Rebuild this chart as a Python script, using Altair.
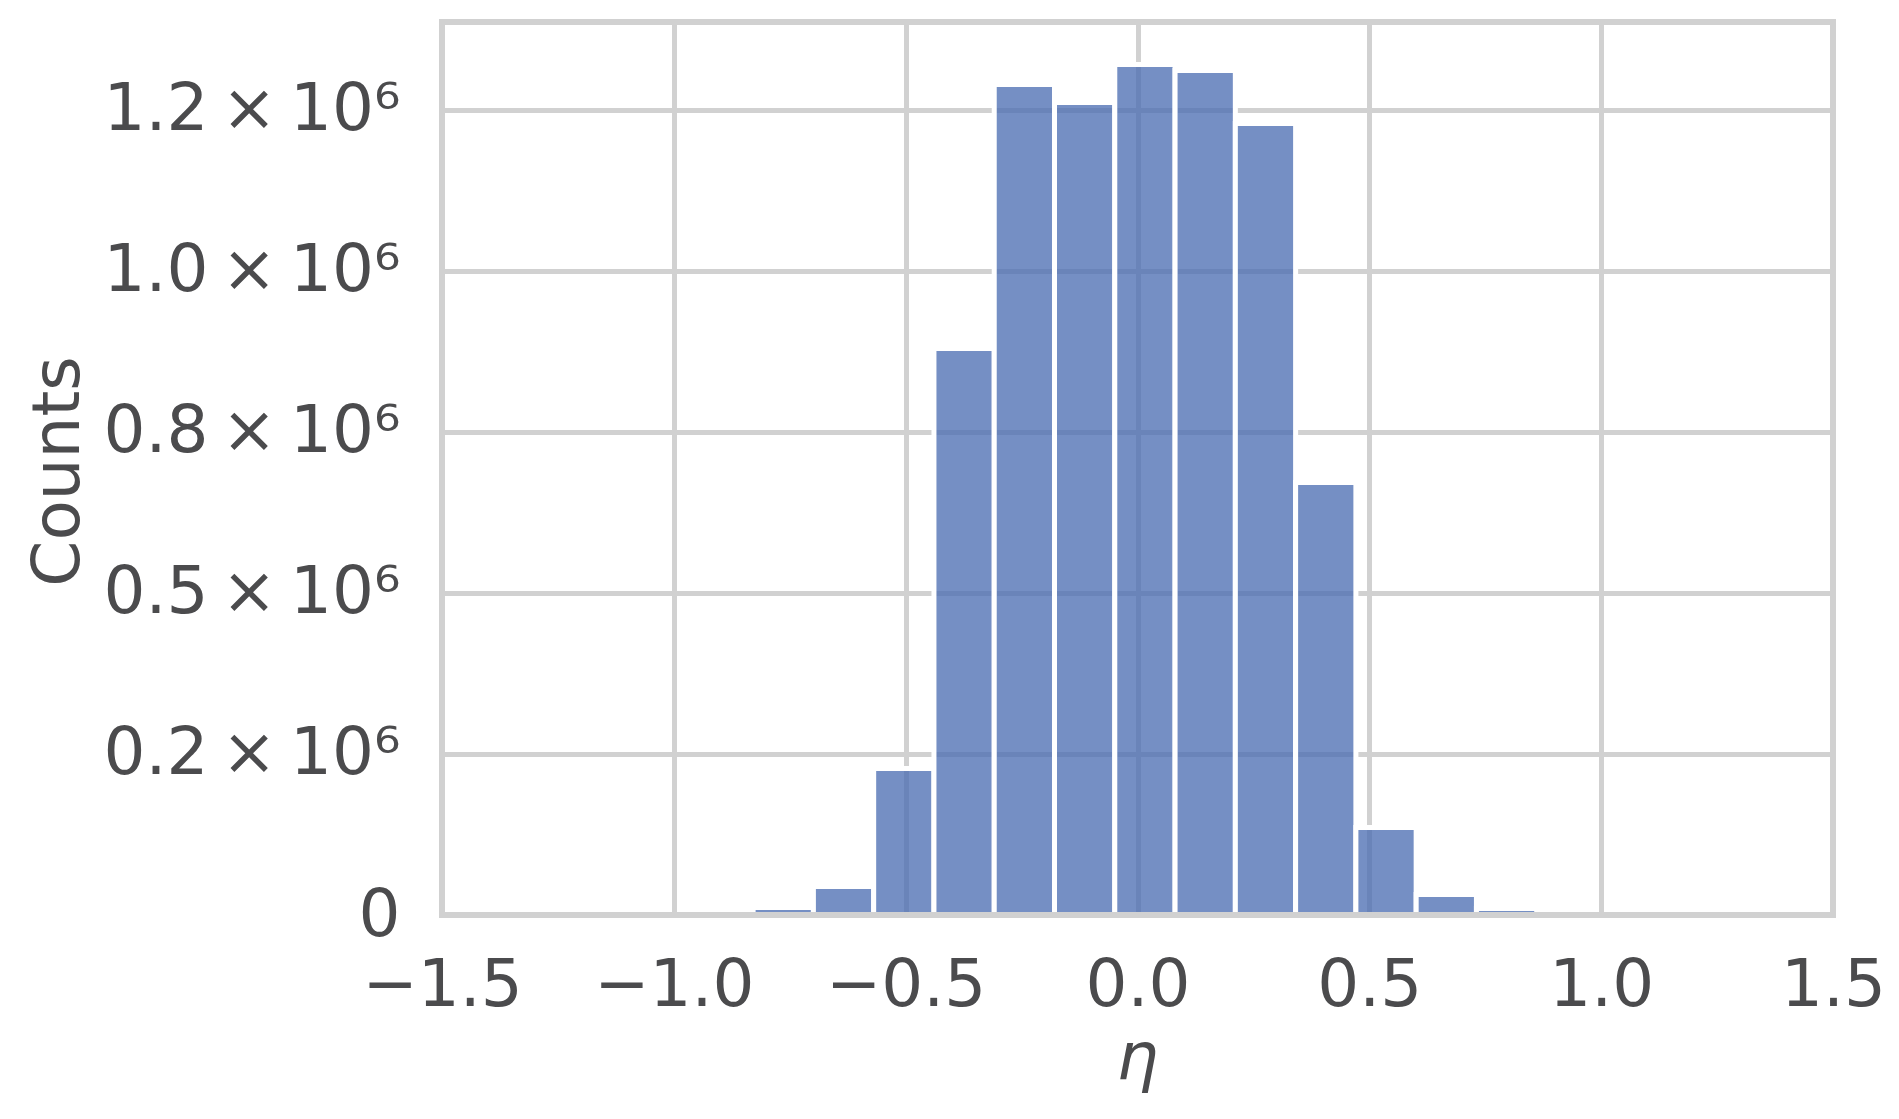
import altair as alt
import pandas as pd

# ---- data ----
bin_starts = [-0.829, -0.699, -0.569, -0.439, -0.309, -0.179, -0.049,
              0.081, 0.211, 0.341, 0.471, 0.601, 0.731]
bin_width = 0.13
counts = [11600, 44200, 227300, 879100, 1288800, 1260900, 1319800,
          1310500, 1228300, 671200, 135800, 31800, 10100]
x_ticks = [-1.5, -1.0, -0.5, 0.0, 0.5, 1.0, 1.5]
y_ticks = [0, 250000, 500000, 750000, 1000000, 1250000]
y_tick_labels = ["0", "0.2\u2009×\u200910⁶", "0.5\u2009×\u200910⁶", "0.8\u2009×\u200910⁶",
                 "1.0\u2009×\u200910⁶", "1.2\u2009×\u200910⁶"]
y_max = 1385800

df = pd.DataFrame({
    "start": bin_starts,
    "end": [s + bin_width for s in bin_starts],
    "count": counts,
})
base_df = pd.DataFrame({"count": [0]})

FONT = "DejaVu Sans"
TXT = "#4b4b4d"
GRID = "#d1d1d1"
FS = 66
W, H = 1391, 893

label_expr = (
    "[" + ",".join("'" + l + "'" for l in y_tick_labels) + "]"
    + "[indexof([" + ",".join(str(v) for v in y_ticks) + "], datum.value)]"
)

x_scale = alt.Scale(domain=[-1.5, 1.5], nice=False, zero=False)
y_scale = alt.Scale(domain=[0, y_max], nice=False)

x_axis = alt.Axis(
    values=x_ticks, format=".1f", title="η", grid=True,
    gridColor=GRID, gridWidth=5, domain=False, ticks=False, tickSize=0,
    labelFont=FONT, labelFontSize=FS, labelColor=TXT, labelLimit=500,
    labelPadding=90, labelBaseline="alphabetic",
    labelFlush=False, labelOverlap=False,
    titleFont=FONT, titleFontSize=FS, titleColor=TXT,
    titleFontStyle="italic", titleFontWeight="normal",
    titleX=695, titleY=163, titleBaseline="alphabetic", titleAlign="center",
)
y_axis = alt.Axis(
    values=y_ticks, labelExpr=label_expr, title="Counts", grid=True,
    gridColor=GRID, gridWidth=5, domain=False, ticks=False, tickSize=0,
    labelFont=FONT, labelFontSize=FS, labelColor=TXT, labelLimit=500,
    labelPadding=42, labelBaseline="middle", labelFlush=False, labelOverlap=False,
    titleFont=FONT, titleFontSize=FS, titleColor=TXT, titleFontWeight="normal",
    titleAngle=270, titleX=-364, titleY=449,
    titleBaseline="alphabetic", titleAlign="center",
)

bars = alt.Chart(df).mark_rect(
    fill="#476AB0", fillOpacity=0.75, stroke="white", strokeWidth=5
).encode(
    x=alt.X("start:Q", scale=x_scale, axis=x_axis),
    x2="end:Q",
    y=alt.Y("count:Q", scale=y_scale, axis=y_axis),
    y2=alt.datum(0),
)

bottom_spine = alt.Chart(base_df).mark_rule(color=GRID, strokeWidth=6).encode(
    y=alt.Y("count:Q", scale=y_scale, axis=y_axis)
)

chart = alt.layer(bars, bottom_spine).properties(
    width=W, height=H,
    autosize=alt.AutoSizeParams(type="none"),
    padding={"left": 434, "top": 14, "right": 58, "bottom": 180},
).configure_view(stroke=GRID, strokeWidth=6)

chart.save("out.html", embed_options={"renderer": "svg", "actions": False})
